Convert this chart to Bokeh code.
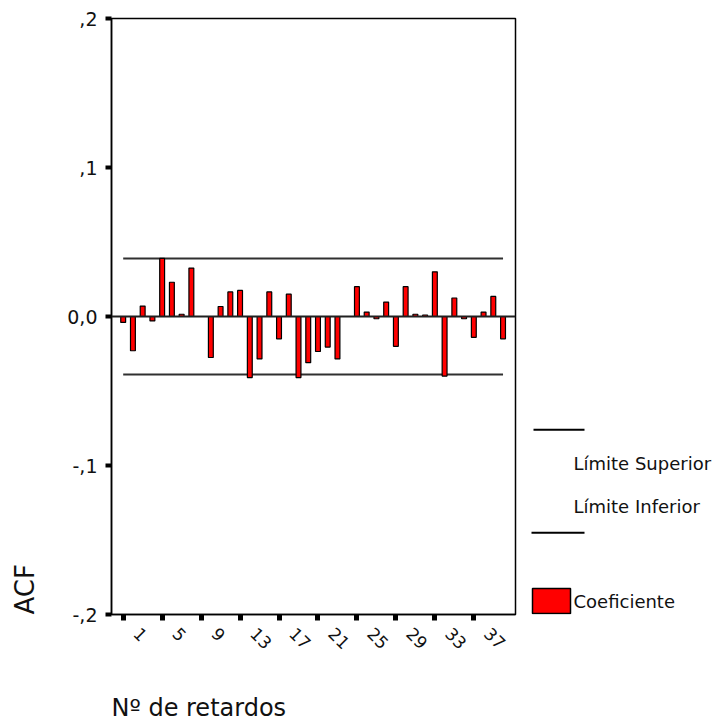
import math
from bokeh.plotting import figure
from bokeh.models import Range1d, FixedTicker, Span, LinearAxis, Title
from bokeh.layouts import row
from bokeh.embed import file_html
from bokeh.resources import INLINE
from bokeh.core.properties import value

# ---------------- data ----------------
lags = list(range(1, 41))
acf = [-0.004, -0.023, 0.007, -0.003, 0.039, 0.023, 0.0015, 0.0325, 0.0, -0.0275,
       0.0067, 0.0165, 0.0175, -0.041, -0.0285, 0.0165, -0.015, 0.015, -0.041, -0.031,
       -0.0235, -0.0205, -0.0285, 0.0, 0.020, 0.003, -0.0015, 0.0097, -0.020, 0.020,
       0.0015, 0.001, 0.030, -0.040, 0.0124, -0.0015, -0.014, 0.003, 0.0135, -0.015]
upper_limit = 0.039
lower_limit = -0.039

y_ticks = [-0.2, -0.1, 0.0, 0.1, 0.2]
y_tick_labels = ["-,2", "-,1", "0,0", ",1", ",2"]
x_ticks = [1, 5, 9, 13, 17, 21, 25, 29, 33, 37]
x_tick_labels = ["1", "5", "9", "13", "17", "21", "25", "29", "33", "37"]
y_title = "ACF"
x_title = "Nº de retardos"
legend_labels = ["Límite Superior", "Límite Inferior", "Coeficiente"]

# ---------------- layout ----------------
FONT = "DejaVu Sans"
W, H = 525, 722
L, R, T, B = 111, 10, 18, 107
X0, X1 = -0.2, 41.28
Y0, Y1 = -0.2, 0.2
LABEL_SHIFT = 1.4  # horizontal offset of the slanted tick labels, in lag units

p = figure(width=W, height=H, x_range=Range1d(X0, X1), y_range=Range1d(Y0, Y1),
           output_backend="svg", toolbar_location=None,
           min_border_left=L, min_border_right=R, min_border_top=T, min_border_bottom=B)
p.background_fill_color = "white"
p.border_fill_color = "white"
p.xgrid.visible = False
p.ygrid.visible = False
p.outline_line_color = "black"
p.outline_line_width = 1.5

yax = p.yaxis[0]
yax.ticker = FixedTicker(ticks=y_ticks)
yax.major_label_overrides = dict(zip(y_ticks, y_tick_labels))
yax.axis_line_color = "black"
yax.axis_line_width = 1.5
yax.major_tick_out = 6
yax.major_tick_in = 0
yax.major_tick_line_width = 4
yax.major_tick_line_color = "black"
yax.minor_tick_out = 0
yax.minor_tick_in = 0
yax.major_label_text_font = FONT
yax.major_label_text_font_size = "19px"
yax.major_label_text_color = "#111111"
yax.major_label_standoff = 8

# tick marks only
xax = p.xaxis[0]
xax.ticker = FixedTicker(ticks=x_ticks)
xax.major_label_overrides = {t: "" for t in x_ticks}
xax.major_label_text_font_size = "1px"
xax.major_label_standoff = 0
xax.axis_line_color = "black"
xax.axis_line_width = 1.5
xax.major_tick_out = 6
xax.major_tick_in = 0
xax.major_tick_line_width = 5
xax.major_tick_line_color = "black"
xax.minor_tick_out = 0
xax.minor_tick_in = 0

# slanted tick labels
label_pos = [t + LABEL_SHIFT for t in x_ticks]
xlab = LinearAxis(ticker=FixedTicker(ticks=label_pos),
                  major_label_overrides=dict(zip(label_pos, x_tick_labels)))
xlab.axis_line_color = None
xlab.major_tick_line_color = None
xlab.major_tick_out = 0
xlab.major_tick_in = 0
xlab.minor_tick_out = 0
xlab.minor_tick_in = 0
xlab.major_label_orientation = -math.pi / 4
xlab.major_label_text_font = FONT
xlab.major_label_text_font_size = "17px"
xlab.major_label_text_color = "#111111"
xlab.major_label_standoff = 10
p.add_layout(xlab, "below")

# spacers (blank panels) between the axes and their titles
p.add_layout(Title(text=" ", text_font_size="1px", standoff=30), "below")
p.add_layout(Title(text=" ", text_font_size="1px", standoff=21), "left")

# axis titles
p.add_layout(Title(text=x_title, align="left", offset=0, standoff=2,
                   text_font=FONT, text_font_size="24px", text_font_style="normal",
                   text_color="#111111"), "below")
p.add_layout(Title(text=y_title, align="left", offset=0, standoff=2,
                   text_font=FONT, text_font_size="26px", text_font_style="normal",
                   text_color="#111111"), "left")

p.add_layout(Span(location=0, dimension="width", line_color="#202020", line_width=2))

p.segment(x0=[lags[0], lags[0]], x1=[lags[-1], lags[-1]],
          y0=[upper_limit, lower_limit], y1=[upper_limit, lower_limit],
          line_color="#303030", line_width=2)

p.vbar(x=lags, top=acf, bottom=0, width=0.5, fill_color="#ff0000",
       line_color="black", line_width=1.2)

# ---------------- legend panel ----------------
LX0 = W
LW = 718 - W
lf = figure(width=LW, height=H, x_range=Range1d(LX0, LX0 + LW), y_range=Range1d(H - B, T),
            output_backend="svg", toolbar_location=None,
            min_border_left=0, min_border_right=0, min_border_top=T, min_border_bottom=B)
lf.axis.visible = False
lf.xgrid.visible = False
lf.ygrid.visible = False
lf.outline_line_color = None
lf.background_fill_color = "white"
lf.border_fill_color = "white"

lf.segment(x0=[533, 531], x1=[584, 584], y0=[430, 533], y1=[430, 533],
           line_color="black", line_width=2)
lf.quad(left=[532], right=[570], top=[589], bottom=[614], fill_color="#ff0000",
        line_color="black", line_width=1.5)
lf.text(x=[573, 573, 573], y=[464, 507, 602], text=legend_labels,
        text_font=value(FONT), text_font_size="18px", text_align="left",
        text_baseline="middle", text_color="#111111")

layout = row(p, lf)
open("out.html", "w").write(file_html(layout, INLINE))
